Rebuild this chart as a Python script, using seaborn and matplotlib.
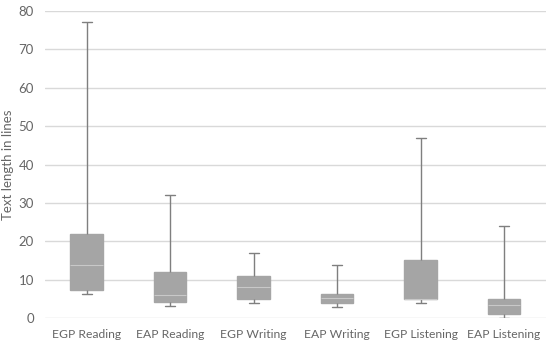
import numpy as np
import pandas as pd
import matplotlib
matplotlib.use("Agg")
import matplotlib.pyplot as plt
import seaborn as sns

categories = ["EGP Reading", "EAP Reading", "EGP Writing", "EAP Writing", "EGP Listening", "EAP Listening"]
mins = [6.2, 3.1, 3.9, 3.0, 4.0, 0.0]
q1s = [7.4, 4.1, 5.0, 4.0, 5.0, 1.0]
medians = [13.8, 6.0, 8.0, 5.3, 5.0, 3.3]
q3s = [21.9, 12.0, 10.9, 6.3, 15.0, 4.9]
maxs = [77.0, 32.0, 16.9, 13.8, 47.0, 24.0]

# five points per group: quartiles of [min, q1, med, q3, max] are exactly q1/med/q3
rows = []
for i, c in enumerate(categories):
    for v in (mins[i], q1s[i], medians[i], q3s[i], maxs[i]):
        rows.append({"cat": c, "lines": v})
df = pd.DataFrame(rows)

sns.set_style("white")
plt.rcParams["font.family"] = ["Lato", "DejaVu Sans"]

fig = plt.figure(figsize=(5.49, 3.42), dpi=100)
ax = fig.add_axes([0.082, 0.070, 0.912, 0.898])

sns.boxplot(data=df, x="cat", y="lines", order=categories, whis=np.inf,
            color="#a5a5a5", saturation=1, width=0.39, linewidth=1.0,
            linecolor="#7f7f7f", ax=ax,
            boxprops=dict(edgecolor="#a5a5a5", facecolor="#a5a5a5"),
            medianprops=dict(color="#c8c8c8", linewidth=0.8),
            capwidths=0.12)

ax.set_ylim(0, 80)
ax.set_yticks(range(0, 81, 10))
ax.set_xlim(-0.5, 5.5)
ax.yaxis.grid(True, color="#d9d9d9", linewidth=1)
ax.set_axisbelow(True)
for s in ax.spines.values():
    s.set_visible(False)
ax.tick_params(axis="y", length=0, labelsize=9.5, labelcolor="#666666", pad=8)
ax.tick_params(axis="x", length=0, labelsize=8.7, labelcolor="#666666", pad=8)
ax.set_xlabel("")
ax.set_ylabel("Text length in lines", fontsize=9.5, color="#666666", labelpad=3)

fig.savefig("out.png", dpi=100)
